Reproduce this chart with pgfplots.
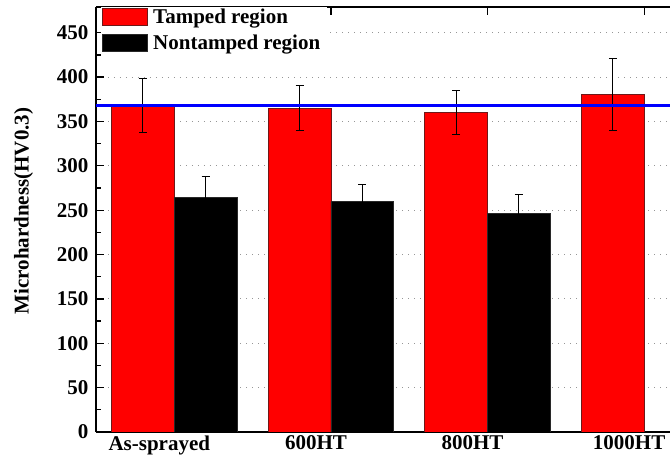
\documentclass[border=0pt]{standalone}
\usepackage{pgfplots}
\pgfplotsset{compat=1.18}
\usepackage{fontspec}
\setmainfont{Liberation Serif}

\definecolor{barred}{RGB}{255,0,0}
\definecolor{rededge}{RGB}{110,25,25}
\definecolor{blackedge}{RGB}{40,40,40}
\definecolor{gridgray}{RGB}{150,150,150}

\newcommand{\lblfont}{\fontsize{21}{24}\selectfont\bfseries}

\begin{document}
\begin{tikzpicture}
\begin{axis}[
  name=ax,
  scale only axis,
  width=574pt, height=425pt,
  xmin=-0.5, xmax=3.165,
  ymin=0, ymax=479,
  axis x line=box, axis y line=left,
  axis line style={line width=1.5pt, black},
  y axis line style={-},
  tick align=inside,
  major tick length=8pt,
  minor tick length=4.5pt,
  tick style={line width=1.2pt, black},
  xtick={0,1,2,3},
  xticklabels={As-sprayed,600HT,800HT,1000HT},
  xticklabel style={xshift=-15pt},
  yticklabel style={xshift=-4pt},
  ytick={0,50,...,450},
  minor y tick num=1,
  ticklabel style={font=\lblfont},
  /pgf/number format/assume math mode=true,
  ymajorgrids,
  grid style={gridgray, line width=0.9pt, dash pattern=on 0.9pt off 5.1pt},
  ylabel={Microhardness(HV0.3)},
  ylabel style={font=\lblfont, at={(axis description cs:-0.126,0.52)}, anchor=center},
  legend style={
    at={(axis cs:-0.47,479)}, anchor=north west,
    draw=none, fill=white,
    font=\lblfont,
    inner xsep=1.5pt, inner ysep=1pt,
    row sep=8pt,
    nodes={inner xsep=5pt, inner ysep=0pt},
  },
  legend cell align=left,
]

% Tamped region (bars sit left of each group centre)
\addplot[ybar, bar width=0.4, bar shift=0,
  fill=barred, draw=rededge, line width=0.8pt,
  legend image code/.code={\fill[barred, draw=rededge, line width=0.8pt] (0pt,-8.5pt) rectangle (45pt,8.5pt);},
  error bars/.cd, y dir=both, y explicit,
  error bar style={line width=1pt, black},
  error mark options={rotate=90, mark size=4pt, line width=1pt, black},
] coordinates {
  (-0.2,367.5) +- (0,30.5)
  (0.8,365)    +- (0,25)
  (1.8,360)    +- (0,25)
  (2.8,380)    +- (0,40.5)
};
\addlegendentry{Tamped region}

% Nontamped region (bars sit right of each group centre)
\addplot[ybar, bar width=0.4, bar shift=0,
  fill=black, draw=blackedge, line width=0.8pt,
  legend image code/.code={\fill[black, draw=blackedge, line width=0.8pt] (0pt,-8.5pt) rectangle (45pt,8.5pt);},
  error bars/.cd, y dir=both, y explicit,
  error bar style={line width=1pt, black},
  error mark options={rotate=90, mark size=4pt, line width=1pt, black},
] coordinates {
  (0.2,264.5) +- (0,23)
  (1.2,259.5) +- (0,20)
  (2.2,246.5) +- (0,21)
};
\addlegendentry{Nontamped region}

% reference level
\addplot[blue, line width=3pt, forget plot] coordinates {(-0.5,367.5) (3.165,367.5)};

\end{axis}
\pgfresetboundingbox
\path (ax.south west) ++(-96pt,-31pt) rectangle ([yshift=7pt]ax.north east);
\end{tikzpicture}
\end{document}
